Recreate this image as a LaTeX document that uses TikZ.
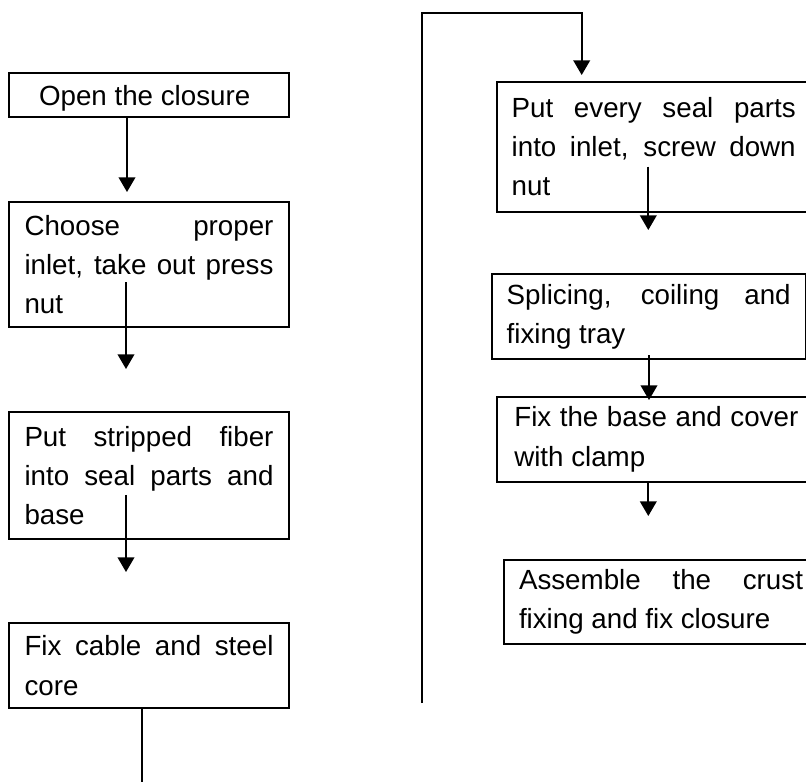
\documentclass[tikz,border=0pt]{standalone}
\usepackage{fontspec}
\setmainfont{Liberation Sans}
\usetikzlibrary{arrows.meta,calc}
\begin{document}
\begin{tikzpicture}[x=0.75pt,y=-0.75pt,
  box/.style={draw, line width=1.5pt, outer sep=0pt, anchor=north west, inner ysep=0pt, align=justify,
    font={\fontsize{20.8pt}{29.5pt}\selectfont\tolerance=10000\hbadness=10000\hyphenpenalty=10000}},
  boxL/.style={box, text width=186.75pt, inner xsep=11.625pt},
  boxR/.style={box, text width=213pt, inner xsep=11.25pt},
  conn/.style={line width=1.3pt},
  arr/.style={conn, -{Triangle[length=11pt,width=12.5pt]}}]
\useasboundingbox (0,0) rectangle (806,782);
\clip (0,0) rectangle (806,782);
\fill[white] (0,0) rectangle (806,782);

% left column
\node[boxL, minimum height=33pt, text depth=0pt] (b1) at (9,73) {\hspace*{10.9pt}Open the closure};
\node[boxL, minimum height=94.2pt] (b2) at (9,201.7) {Choose proper\linebreak inlet, take out press\linebreak nut};
\node[boxL, minimum height=95pt] (b3) at (9,412.3) {Put stripped fiber\linebreak into seal parts and\linebreak base};
\node[boxL, minimum height=63.75pt] (b4) at (9,623) {Fix cable and steel\linebreak core};

% right column
\node[boxR, minimum height=97.35pt] (b5) at (496.7,81.7) {Put every seal parts\linebreak into inlet, screw down\linebreak nut};
\node[boxR, minimum height=63.75pt] (b6) at (491.7,274.3) {Splicing, coiling and\linebreak fixing tray};
\node[boxR, minimum height=63.75pt, inner xsep=12.75pt] (b7) at (497.3,396.7) {Fix the base and cover\linebreak with clamp};
\node[boxR, minimum height=63pt] (b8) at (504,560) {Assemble the crust\linebreak fixing and fix closure};

% connector end points
\coordinate (e1) at (127,192);
\coordinate (e2) at (126,369);
\coordinate (e3) at (126,572);
\coordinate (e4) at (142,782);
\coordinate (l1) at (422,703);
\coordinate (lt) at (422,13.3);
\coordinate (e5) at (581.7,75);
\coordinate (e6) at (648.3,230);
\coordinate (e7) at (649,400);
\coordinate (e8) at (648.3,516);

% connectors
\draw[arr] (b1.south -| e1) -- (e1);
\draw[arr] ($(b2.south -| e2)+(0,-45)$) -- (e2);
\draw[arr] ($(b3.south -| e3)+(0,-44)$) -- (e3);
\draw[conn] (b4.south -| e4) -- (e4);
\draw[arr] (l1) -- (lt) -| (e5);
\draw[arr] ($(b5.south -| e6)+(0,-45)$) -- (e6);
\draw[arr] ($(b6.south -| e7)+(0,-4)$) -- (e7);
\draw[arr] (b7.south -| e8) -- (e8);
\end{tikzpicture}
\end{document}
